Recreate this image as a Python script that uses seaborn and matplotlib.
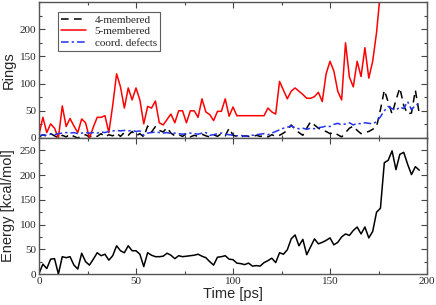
import matplotlib
matplotlib.use("Agg")
import matplotlib.pyplot as plt
from matplotlib.ticker import MultipleLocator
import numpy as np
import pandas as pd
import seaborn as sns

# time axis (ps), sampled every 2 ps
time_full = list(range(0, 198, 2))      # 0..196
time_red = list(range(0, 178, 2))       # 0..176

five_membered = [
    6, 38, 10, 26, 18, 0, 59, 21, 36, 22,          # 0-18
    10, 35, 28, 0, 20, 38, 38, 41, 10, 60,         # 20-38
    118, 94, 55, 92, 70, 92, 70, 26, 58, 55,       # 40-58
    68, 28, 24, 34, 44, 28, 50, 50, 28, 50,        # 60-78
    50, 38, 72, 48, 43, 32, 49, 49, 72, 40,        # 80-98
    57, 41, 41, 41, 41, 41, 41, 41, 41, 55,        # 100-118
    48, 44, 104, 88, 72, 86, 92, 86, 80, 73,       # 120-138
    73, 76, 84, 67, 118, 141, 123, 86, 70, 175,    # 140-158
    112, 94, 141, 113, 166, 110, 141, 194, 270,    # 160-176
]

four_membered = [
    2, 6, 3, 8, 4, 0,                              # 0-10
    5, 2, 7, 3, 0, 4, 6, 2,                        # 12-26
    5, 3, 8, 2, 6, 4,                              # 28-38
    9, 3, 10, 5, 12, 4, 8,                         # 40-52
    2, 22, 11, 21, 14, 11, 19, 9,                  # 54-68
    4, 6, 3, 8, 2, 5, 3, 7, 4,                     # 70-86
    2, 6, 3, 8, 4, 18,                             # 88-98
    5, 3, 2, 4, 3, 2, 5, 3, 4, 2, 6, 3, 5, 9,      # 100-126
    14, 24, 16, 10, 5, 18, 30,                     # 128-140
    24, 18, 14, 12, 8, 10, 6, 2,                   # 142-156
    10, 18, 22, 14, 8, 10, 12, 16, 21, 52,         # 158-176
    88, 66, 44, 70, 92, 60, 44, 46, 88, 45,        # 178-196
]

coord_defects = [
    4, 6, 5, 7, 6, 8,                              # 0-10
    9, 10, 9, 10, 8, 9, 10, 9,                     # 12-26
    10, 9, 11, 10, 12, 13,                         # 28-38
    14, 13, 14, 13, 14, 12, 13,                    # 40-52
    5, 9, 10, 11, 10, 9, 10, 8,                    # 54-68
    9, 8, 7, 8, 9, 8, 7, 9, 10,                    # 70-86
    5, 6, 8, 9, 7, 6,                              # 88-98
    5, 4, 5, 3, 4, 5, 6, 7, 8, 6, 9, 12, 15, 18,   # 100-126
    20, 22, 19, 17, 18, 16, 18,                    # 128-140
    17, 19, 20, 22, 21, 25, 27, 24,                # 142-156
    26, 28, 24, 27, 26, 28, 27, 26, 30, 39,        # 158-176
    50, 58, 54, 51, 57, 54, 67, 52, 60, 64,        # 178-196
]

energy = [
    1, 20, 11, 30, 31, 0, 35, 33, 35, 18,          # 0-18
    10, 42, 25, 18, 30, 43, 37, 40, 28, 37,        # 20-38
    57, 47, 43, 57, 47, 47, 40, 15, 43, 38,        # 40-58
    35, 35, 36, 42, 38, 31, 37, 35, 36, 37,        # 60-78
    38, 40, 36, 33, 25, 18, 34, 35, 37, 30,        # 80-98
    29, 22, 21, 19, 22, 16, 17, 16, 23, 27,        # 100-118
    32, 23, 43, 40, 49, 71, 79, 57, 70, 39,        # 120-138
    55, 71, 61, 64, 68, 73, 59, 64, 75, 81,        # 140-158
    78, 88, 95, 81, 95, 73, 86, 125, 133, 225,     # 160-178
    230, 249, 211, 242, 246, 222, 201, 217, 210,   # 180-196
]

rings_df = pd.DataFrame({"t": time_full, "four": four_membered, "defects": coord_defects})
red_df = pd.DataFrame({"t": time_red, "five": five_membered})
energy_df = pd.DataFrame({"t": time_full, "energy": energy})

sns.set_style("white")
plt.rcParams["font.family"] = ["Liberation Serif", "DejaVu Serif"]
label_font = {"family": "Liberation Sans", "size": 10.5}

fig = plt.figure(figsize=(4.36, 3.05), dpi=100)
ax1 = fig.add_axes([39 / 436, 1 - 138 / 305, 388 / 436, 136 / 305])
ax2 = fig.add_axes([39 / 436, 1 - 274 / 305, 388 / 436, 136 / 305])

sns.lineplot(data=rings_df, x="t", y="four", ax=ax1, color="black", lw=1.1,
             linestyle=(0, (5, 3.5)), label="4-membered")
sns.lineplot(data=red_df, x="t", y="five", ax=ax1, color="#ff0000", lw=1.1,
             label="5-membered")
sns.lineplot(data=rings_df, x="t", y="defects", ax=ax1, color="#2233ee", lw=1.1,
             linestyle=(0, (5, 2, 1.5, 2)), label="coord. defects")
sns.lineplot(data=energy_df, x="t", y="energy", ax=ax2, color="black", lw=1.1)

ax1.set_ylim(0, 250)
ax2.set_ylim(0, 275)
for ax in (ax1, ax2):
    ax.set_xlim(0, 200)
    ax.xaxis.set_major_locator(MultipleLocator(50))
    ax.xaxis.set_minor_locator(MultipleLocator(25))
    ax.yaxis.set_major_locator(MultipleLocator(50))
    ax.yaxis.set_minor_locator(MultipleLocator(25))
    ax.tick_params(which="both", direction="in", top=True, right=True,
                   bottom=True, left=True, labelsize=8, pad=2, color="#444444")
    ax.tick_params(which="major", length=4, width=0.8)
    ax.tick_params(which="minor", length=2, width=0.8)
    for s in ax.spines.values():
        s.set_color("#555555")
        s.set_linewidth(1.0)

ax1.set_yticks([0, 50, 100, 150, 200])
ax1.yaxis.set_minor_locator(MultipleLocator(25))
ax1.tick_params(labelbottom=False)
ax1.set_xlabel("")
ax1.set_ylabel("Rings", fontdict=label_font, labelpad=3)
ax2.set_xlabel("Time [ps]", fontdict=label_font, labelpad=1)
ax2.set_ylabel("Energy [kcal/mol]", fontdict=label_font, labelpad=3)

leg = ax1.legend(loc="upper left", bbox_to_anchor=(0.049, 0.93), borderaxespad=0,
                 fontsize=8, frameon=True, fancybox=False, handlelength=2.2,
                 handletextpad=0.8, labelspacing=0.15, borderpad=0.3)
leg.get_frame().set_edgecolor("#333333")
leg.get_frame().set_linewidth(0.8)

fig.savefig("out.png", dpi=100)
